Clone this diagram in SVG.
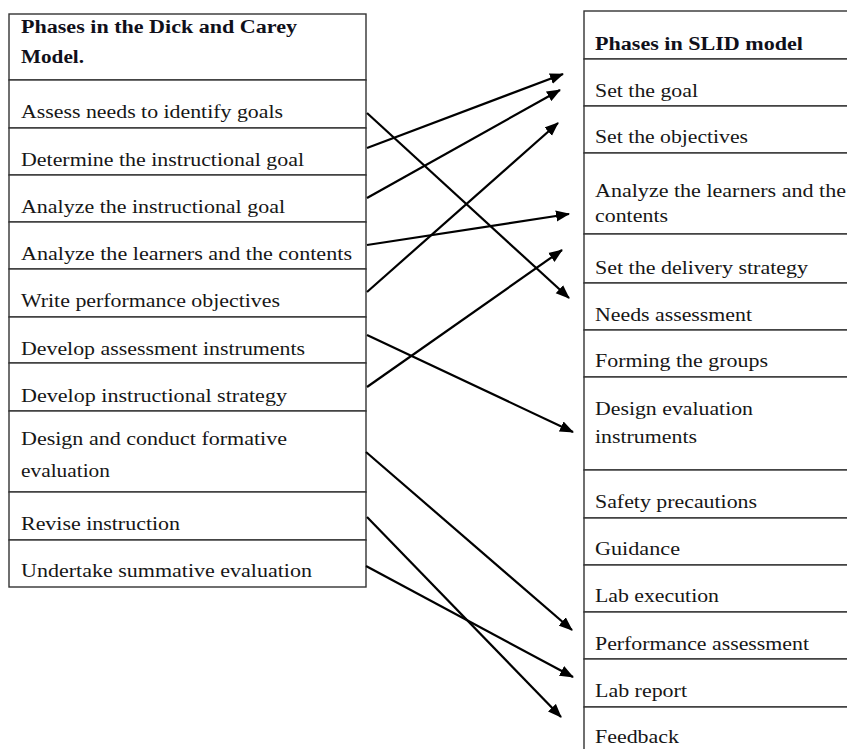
<svg xmlns="http://www.w3.org/2000/svg" width="847" height="749" viewBox="0 0 847 749">
<defs>
<style>
.cell{fill:#fff;stroke:#333;stroke-width:1.4}
.t{font-family:"Liberation Serif","Times New Roman",serif;font-size:18px;fill:#161616}
.b{font-weight:bold;fill:#10101a}
.arr{stroke:#000;stroke-width:2.2;fill:none;marker-end:url(#ah)}
</style>
<marker id="ah" markerUnits="userSpaceOnUse" markerWidth="14" markerHeight="12" refX="13" refY="5.5" orient="auto" viewBox="0 0 14 11">
<path d="M0,0 L14,5.5 L0,11 Z" fill="#000"/>
</marker>
</defs>
<rect width="847" height="749" fill="#fff"/>

<g id="left-table">
<g id="L0"><rect class="cell" x="9" y="14" width="357" height="66"/><text class="t b" x="21" y="33" textLength="276" lengthAdjust="spacingAndGlyphs">Phases in the Dick and Carey</text><text class="t b" x="21" y="63" textLength="63" lengthAdjust="spacingAndGlyphs">Model.</text></g>
<g id="L1"><rect class="cell" x="9" y="80" width="357" height="48"/><text class="t" x="21" y="118" textLength="262" lengthAdjust="spacingAndGlyphs">Assess needs to identify goals</text></g>
<g id="L2"><rect class="cell" x="9" y="128" width="357" height="47"/><text class="t" x="21" y="166" textLength="283" lengthAdjust="spacingAndGlyphs">Determine the instructional goal</text></g>
<g id="L3"><rect class="cell" x="9" y="175" width="357" height="47"/><text class="t" x="21" y="213" textLength="264" lengthAdjust="spacingAndGlyphs">Analyze the instructional goal</text></g>
<g id="L4"><rect class="cell" x="9" y="222" width="357" height="47"/><text class="t" x="21" y="260" textLength="331" lengthAdjust="spacingAndGlyphs">Analyze the learners and the contents</text></g>
<g id="L5"><rect class="cell" x="9" y="269" width="357" height="48"/><text class="t" x="21" y="307" textLength="259" lengthAdjust="spacingAndGlyphs">Write performance objectives</text></g>
<g id="L6"><rect class="cell" x="9" y="317" width="357" height="46"/><text class="t" x="21" y="355" textLength="284" lengthAdjust="spacingAndGlyphs">Develop assessment instruments</text></g>
<g id="L7"><rect class="cell" x="9" y="363" width="357" height="48"/><text class="t" x="21" y="402" textLength="266" lengthAdjust="spacingAndGlyphs">Develop instructional strategy</text></g>
<g id="L8"><rect class="cell" x="9" y="411" width="357" height="81"/><text class="t" x="21" y="445" textLength="266" lengthAdjust="spacingAndGlyphs">Design and conduct formative</text><text class="t" x="21" y="477" textLength="89" lengthAdjust="spacingAndGlyphs">evaluation</text></g>
<g id="L9"><rect class="cell" x="9" y="492" width="357" height="48"/><text class="t" x="21" y="530" textLength="159" lengthAdjust="spacingAndGlyphs">Revise instruction</text></g>
<g id="L10"><rect class="cell" x="9" y="540" width="357" height="47"/><text class="t" x="21" y="577" textLength="291" lengthAdjust="spacingAndGlyphs">Undertake summative evaluation</text></g>
</g>

<g id="right-table">
<g id="R0"><rect class="cell" x="584" y="11" width="280" height="48"/><text class="t b" x="595" y="50" textLength="208" lengthAdjust="spacingAndGlyphs">Phases in SLID model</text></g>
<g id="R1"><rect class="cell" x="584" y="59" width="280" height="47"/><text class="t" x="595" y="97" textLength="103" lengthAdjust="spacingAndGlyphs">Set the goal</text></g>
<g id="R2"><rect class="cell" x="584" y="106" width="280" height="47"/><text class="t" x="595" y="143" textLength="153" lengthAdjust="spacingAndGlyphs">Set the objectives</text></g>
<g id="R3"><rect class="cell" x="584" y="153" width="280" height="81"/><text class="t" x="595" y="197" textLength="251" lengthAdjust="spacingAndGlyphs">Analyze the learners and the</text><text class="t" x="595" y="222" textLength="73" lengthAdjust="spacingAndGlyphs">contents</text></g>
<g id="R4"><rect class="cell" x="584" y="234" width="280" height="49"/><text class="t" x="595" y="274" textLength="213" lengthAdjust="spacingAndGlyphs">Set the delivery strategy</text></g>
<g id="R5"><rect class="cell" x="584" y="283" width="280" height="47"/><text class="t" x="595" y="321" textLength="157" lengthAdjust="spacingAndGlyphs">Needs assessment</text></g>
<g id="R6"><rect class="cell" x="584" y="330" width="280" height="47"/><text class="t" x="595" y="367" textLength="173" lengthAdjust="spacingAndGlyphs">Forming the groups</text></g>
<g id="R7"><rect class="cell" x="584" y="377" width="280" height="93"/><text class="t" x="595" y="415" textLength="158" lengthAdjust="spacingAndGlyphs">Design evaluation</text><text class="t" x="595" y="443" textLength="102" lengthAdjust="spacingAndGlyphs">instruments</text></g>
<g id="R8"><rect class="cell" x="584" y="470" width="280" height="48"/><text class="t" x="595" y="508" textLength="162" lengthAdjust="spacingAndGlyphs">Safety precautions</text></g>
<g id="R9"><rect class="cell" x="584" y="518" width="280" height="47"/><text class="t" x="595" y="555" textLength="85" lengthAdjust="spacingAndGlyphs">Guidance</text></g>
<g id="R10"><rect class="cell" x="584" y="565" width="280" height="47"/><text class="t" x="595" y="602" textLength="124" lengthAdjust="spacingAndGlyphs">Lab execution</text></g>
<g id="R11"><rect class="cell" x="584" y="612" width="280" height="47"/><text class="t" x="595" y="650" textLength="214" lengthAdjust="spacingAndGlyphs">Performance assessment</text></g>
<g id="R12"><rect class="cell" x="584" y="659" width="280" height="48"/><text class="t" x="595" y="697" textLength="92" lengthAdjust="spacingAndGlyphs">Lab report</text></g>
<g id="R13"><rect class="cell" x="584" y="707" width="280" height="60"/><text class="t" x="595" y="743" textLength="84" lengthAdjust="spacingAndGlyphs">Feedback</text></g>
</g>

<g id="connectors">
<line class="arr" x1="367" y1="113" x2="569" y2="298"/>
<line class="arr" x1="367" y1="148" x2="563" y2="74"/>
<line class="arr" x1="367" y1="198" x2="560" y2="90"/>
<line class="arr" x1="367" y1="245" x2="569" y2="214"/>
<line class="arr" x1="367" y1="292" x2="558" y2="123"/>
<line class="arr" x1="367" y1="335" x2="573" y2="432"/>
<line class="arr" x1="367" y1="387" x2="562" y2="250"/>
<line class="arr" x1="366" y1="452" x2="572" y2="630"/>
<line class="arr" x1="367" y1="517" x2="561" y2="717"/>
<line class="arr" x1="366" y1="566" x2="573" y2="677"/>
</g>
</svg>
